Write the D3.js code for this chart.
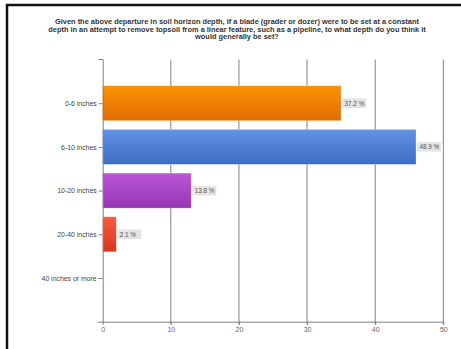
<!DOCTYPE html>
<html>
<head>
<meta charset="utf-8">
<script src="https://cdn.jsdelivr.net/npm/d3@7"></script>
<style>
  html, body { margin: 0; padding: 0; background: #fff; }
  svg { display: block; }
</style>
</head>
<body>
<svg id="chart" width="461" height="349"></svg>
<script>
// Survey answers: number of respondents choosing each blade depth
const categories = ["0-6 inches", "6-10 inches", "10-20 inches", "20-40 inches", "40 inches or more"];
const counts = [35, 46, 13, 2, 0];
const respondents = 94;
const xTicks = [0, 10, 20, 30, 40, 50];
const titleLines = [
  "Given the above departure in soil horizon depth, if a blade (grader or dozer) were to be set at a constant",
  "depth in an attempt to remove topsoil from a linear feature, such as a pipeline, to what depth do you think it",
  "would generally be set?"
];
const barColors = [
  ["#fb9200", "#e06c00"],
  ["#6193e4", "#3f6cc6"],
  ["#bb56d6", "#9536b2"],
  ["#f45e3e", "#d8361c"],
  ["#999999", "#777777"]
];

const svg = d3.select("#chart");
const W = 461, H = 349;
const plot = { left: 102.7, right: 443.3, top: 59.5, bottom: 321.7 };

// Frame edges (left and top)
svg.append("line").attr("x1", 7).attr("x2", 7).attr("y1", 4).attr("y2", H)
  .attr("stroke", "#111").attr("stroke-width", 2.5);
svg.append("line").attr("x1", 6).attr("x2", W).attr("y1", 5).attr("y2", 5)
  .attr("stroke", "#111").attr("stroke-width", 2.5);

// Title
svg.append("g").selectAll("text").data(titleLines).join("text")
  .attr("x", 237).attr("y", (d, i) => 24.2 + i * 7.6)
  .attr("text-anchor", "middle")
  .attr("font-family", "Liberation Sans, Arial, sans-serif")
  .attr("font-weight", "bold").attr("font-size", 7.4)
  .attr("fill", "#333").text(d => d);

const x = d3.scaleLinear().domain([0, 50]).range([plot.left, plot.right]);
const y = d3.scalePoint().domain(categories).range([plot.top, plot.bottom]).padding(1);
const barH = 35;

// Gradients
const defs = svg.append("defs");
barColors.forEach((c, i) => {
  const g = defs.append("linearGradient").attr("id", "g" + i)
    .attr("x1", 0).attr("y1", 0).attr("x2", 0).attr("y2", 1);
  g.append("stop").attr("offset", "0%").attr("stop-color", c[0]);
  g.append("stop").attr("offset", "100%").attr("stop-color", c[1]);
});

// Vertical grid lines
svg.append("g").selectAll("line").data(xTicks.slice(1)).join("line")
  .attr("x1", d => x(d)).attr("x2", d => x(d))
  .attr("y1", plot.top).attr("y2", plot.bottom + 3)
  .attr("stroke", "#808080").attr("stroke-width", 1);

// Bars
const data = categories.map((c, i) => ({ cat: c, v: counts[i], i }));
svg.append("g").selectAll("rect").data(data.filter(d => d.v > 0)).join("rect")
  .attr("x", x(0)).attr("y", d => y(d.cat) - barH / 2)
  .attr("width", d => x(d.v) - x(0)).attr("height", barH)
  .attr("fill", d => `url(#g${d.i})`)
  .attr("stroke", "rgba(255,255,255,0.35)").attr("stroke-width", 0.8);

// Value labels (share of respondents)
const fmt = d3.format(".1f");
const lbl = svg.append("g").selectAll("g").data(data.filter(d => d.v > 0)).join("g")
  .attr("transform", d => `translate(${x(d.v) + 1},${y(d.cat)})`);
lbl.append("rect").attr("x", 0).attr("y", -4.8).attr("width", 24).attr("height", 9.6)
  .attr("fill", "#e4e4e4");
lbl.append("text").attr("x", 2.5).attr("y", 2.3)
  .attr("font-family", "Liberation Sans, Arial, sans-serif").attr("font-size", 6.3)
  .attr("fill", "#555").text(d => fmt(d.v / respondents * 100) + " %");

// Axes
const xAxis = d3.axisBottom(x).tickValues(xTicks).tickSize(3).tickSizeOuter(0);
const gx = svg.append("g").attr("transform", `translate(0,${plot.bottom})`).call(xAxis);
gx.select(".domain").attr("d", `M${plot.left - 5},0.5H${plot.right}`);
gx.selectAll("line").attr("stroke", "#808080");
gx.selectAll("text").attr("font-family", "Liberation Sans, Arial, sans-serif")
  .attr("font-size", 7).attr("fill", "#666").attr("dy", "0.6em");
gx.select(".domain").attr("stroke", "#808080");

const yAxis = d3.axisLeft(y).tickSize(4).tickSizeOuter(0);
const gy = svg.append("g").attr("transform", `translate(${plot.left},0)`).call(yAxis);
gy.select(".domain").attr("d", `M-4,${plot.top}H0.5V${plot.bottom}`)
  .attr("stroke", "#808080").attr("fill", "none");
gy.selectAll("line").attr("stroke", "#808080");
gy.selectAll("text").attr("font-family", "Liberation Sans, Arial, sans-serif")
  .attr("font-size", 6.9).attr("fill", "#444").attr("x", -6);
</script>
</body>
</html>
